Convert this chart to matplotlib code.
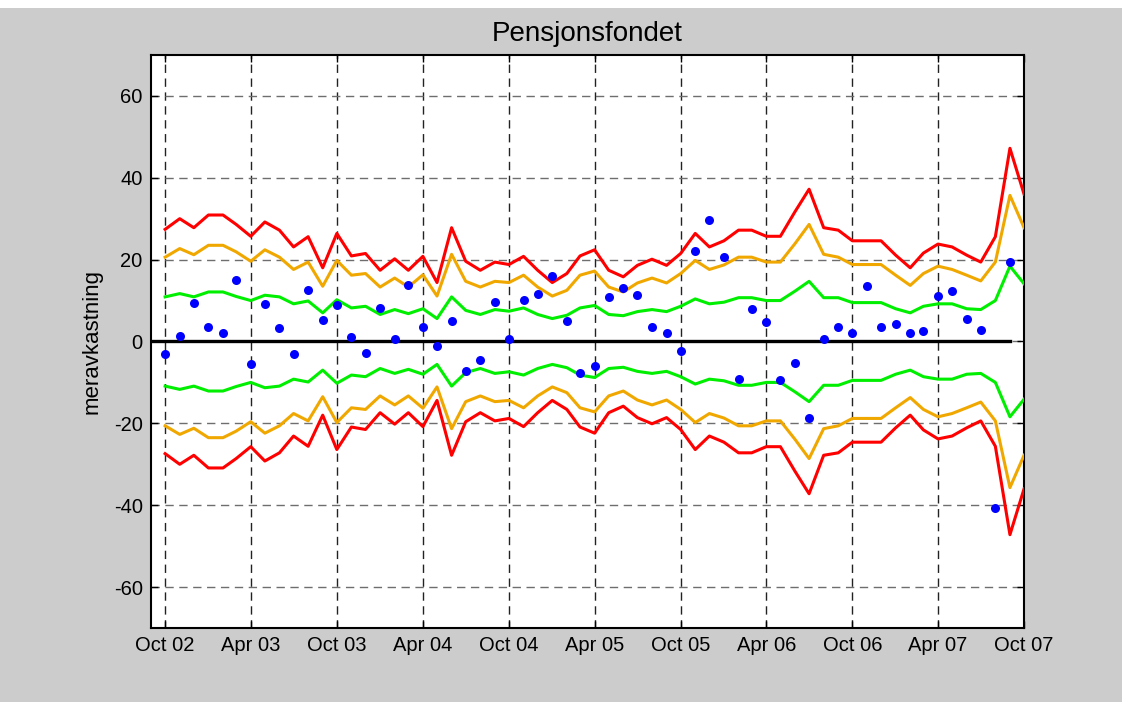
import pandas as pd
import matplotlib
matplotlib.use("Agg")
import matplotlib.pyplot as plt
import matplotlib.dates as mdates
from matplotlib.patches import Rectangle

plt.rcParams['font.family'] = ['Liberation Sans', 'DejaVu Sans']
plt.rcParams['axes.unicode_minus'] = False

# monthly observations, Oct 2002 - Oct 2007
months = pd.date_range('2002-10-01', periods=61, freq='MS')

# upper bands (lower bands are the same values with negative sign)
red_band = [27.4, 30.0, 27.8, 30.9, 30.9, 28.6, 25.7, 29.2, 27.2, 23.1,
            25.6, 18.0, 26.4, 20.9, 21.5, 17.4, 20.2, 17.4, 20.8, 14.4,
            27.8, 19.6, 17.4, 19.4, 18.8, 20.8, 17.4, 14.4, 16.6, 20.9,
            22.4, 17.4, 15.8, 18.6, 20.1, 18.6, 21.5, 26.4, 23.1, 24.6,
            27.2, 27.2, 25.7, 25.7, 31.7, 37.2, 27.8, 27.2, 24.6, 24.6,
            24.6, 21.1, 18.0, 21.6, 23.8, 23.1, 21.1, 19.4, 25.6, 47.2,
            36.0]
orange_band = [20.6, 22.7, 21.2, 23.5, 23.5, 21.9, 19.6, 22.4, 20.6, 17.6,
               19.4, 13.5, 19.8, 16.2, 16.6, 13.3, 15.5, 13.3, 16.3, 11.1,
               21.3, 14.7, 13.3, 14.7, 14.4, 16.2, 13.3, 11.1, 12.5, 16.2,
               17.2, 13.3, 12.1, 14.3, 15.5, 14.3, 16.6, 19.8, 17.6, 18.7,
               20.6, 20.6, 19.4, 19.4, 23.9, 28.6, 21.3, 20.6, 18.8, 18.8,
               18.8, 16.2, 13.7, 16.6, 18.4, 17.6, 16.2, 14.8, 19.4, 35.7,
               27.8]
green_band = [10.9, 11.7, 10.9, 12.1, 12.1, 11.0, 10.0, 11.3, 10.9, 9.2,
              9.9, 7.0, 10.2, 8.2, 8.6, 6.6, 7.8, 6.8, 8.0, 5.6,
              10.9, 7.6, 6.6, 7.8, 7.4, 8.2, 6.6, 5.6, 6.4, 8.2,
              8.8, 6.6, 6.3, 7.3, 7.8, 7.3, 8.6, 10.4, 9.2, 9.6,
              10.7, 10.7, 10.0, 10.0, 12.3, 14.7, 10.7, 10.7, 9.5, 9.5,
              9.5, 8.0, 7.0, 8.6, 9.2, 9.2, 8.0, 7.8, 10.0, 18.4,
              14.1]
# realised excess return (no value for the last month)
excess = [-3.0, 1.3, 9.4, 3.5, 2.0, 14.9, -5.6, 9.1, 3.2, -3.0,
          12.7, 5.3, 9.0, 1.1, -2.7, 8.3, 0.7, 13.7, 3.5, -1.2,
          5.0, -7.3, -4.6, 9.7, 0.7, 10.1, 11.6, 15.9, 5.0, -7.8,
          -5.9, 10.9, 13.1, 11.3, 3.5, 2.0, -2.3, 22.1, 29.8, 20.6,
          -9.2, 7.9, 4.7, -9.5, -5.2, -18.7, 0.7, 3.5, 2.1, 13.5,
          3.5, 4.3, 2.1, 2.5, 11.2, 12.3, 5.4, 2.9, -40.6, 19.3]

fig = plt.figure(figsize=(11.22, 7.02), dpi=100, facecolor='#cccccc')
fig.patches.append(Rectangle((0, 1 - 8 / 702), 1, 8 / 702, transform=fig.transFigure,
                             facecolor='white', edgecolor='none'))
ax = fig.add_axes([0.1346, 0.1054, 0.7781, 0.8163])

for band, col in [(green_band, '#00ee00'), (orange_band, '#f0a800'), (red_band, '#ff0000')]:
    ax.plot(months, band, color=col, lw=2.2, zorder=3)
    ax.plot(months, [-v for v in band], color=col, lw=2.2, zorder=3)

ax.plot([pd.Timestamp('2002-09-01'), months[59]], [0, 0], color='black', lw=2.4, zorder=2)
ax.plot(months[:60], excess, 'o', color='#0000ff', ms=6.5, mec='none', zorder=4)

ax.set_xlim(pd.Timestamp('2002-09-01'), months[-1])
ax.set_ylim(-70, 70)
ax.set_yticks(range(-60, 61, 20))
ax.set_xticks(months[::6])
ax.xaxis.set_major_formatter(mdates.DateFormatter('%b %y'))

ax.xaxis.grid(True, color='#222222', ls=(0, (6, 4)), lw=1)
ax.yaxis.grid(True, color='#6e6e6e', ls=(0, (6, 4)), lw=1)
ax.set_axisbelow(True)

ax.tick_params(direction='in', length=5, width=1, top=True, right=True,
               labelsize=14.5, pad=6)
for s in ax.spines.values():
    s.set_linewidth(1.5)

ax.set_title('Pensjonsfondet', fontsize=20, pad=10)
ax.set_ylabel('meravkastning', fontsize=16, labelpad=8)

fig.savefig('out.png', dpi=100, facecolor=fig.get_facecolor())
